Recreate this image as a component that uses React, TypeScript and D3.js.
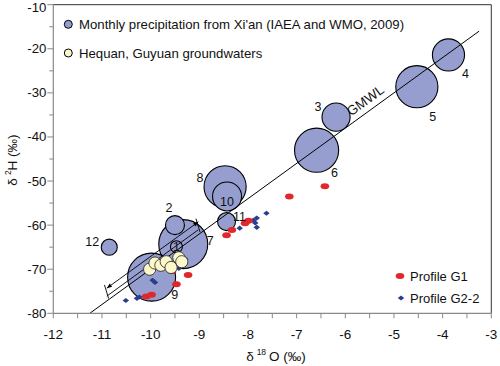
import React from "react";
import * as d3 from "d3";

// ---- Data ----
// Monthly precipitation, Xi'an (month, δ18O, δ2H, amount in mm)
const months = [1, 2, 3, 4, 5, 6, 7, 8, 9, 10, 11, 12];
const precipO = [-9.47, -9.5, -6.19, -3.88, -4.53, -6.59, -9.33, -8.47, -9.98, -8.43, -8.44, -10.85];
const precipH = [-64.9, -60.0, -35.5, -21.4, -28.6, -43.0, -64.3, -51.3, -71.8, -53.5, -59.2, -65.0];
const precipAmount = [6, 15, 33, 43, 74, 81, 100, 74, 96, 35, 13.5, 10.7];

// Hequan, Guyuan groundwaters
const gwO = [-10.02, -9.91, -9.79, -9.68, -9.58, -9.42, -9.36];
const gwH = [-70.0, -68.6, -69.1, -68.3, -69.6, -67.4, -68.3];

// Profile G1
const g1O = [-6.42, -7.15, -7.99, -8.06, -8.33, -8.44, -9.56, -9.23, -9.47, -9.98, -10.09];
const g1H = [-51.2, -53.5, -59.0, -59.6, -61.1, -62.3, -70.4, -71.3, -73.4, -75.8, -76.2];

// Profile G2-2
const g2O = [-7.62, -7.82, -7.89, -7.85, -7.82, -8.17, -9.66, -9.45, -9.29, -9.41, -9.42, -9.96, -9.91, -10.23, -10.28, -10.51];
const g2H = [-57.3, -58.4, -58.9, -59.5, -60.5, -60.7, -68.2, -67.7, -67.7, -69.0, -69.8, -72.5, -73.0, -76.3, -76.6, -77.1];

// Axis ticks
const xTicks = [-12, -11, -10, -9, -8, -7, -6, -5, -4, -3];
const yTicks = [-80, -70, -60, -50, -40, -30, -20, -10];

// GMWL: δ2H = 8 δ18O + 10
const gmwlSlope = 8;
const gmwlIntercept = 10;
const gmwlRange = [-11.25, -3.25];
const offsetLineIntercept = 11.1;
const dimLineIntercept = 12.9;
const dimRange = [-10.9, -9.02];

// ---- Layout ----
const W = 500;
const H = 366;
const FONT = "Arial, 'Liberation Sans', sans-serif";
const LAV = "#959ecf";
const CREAM = "#fdf8c9";
const RED = "#e0282c";
const BLUE = "#2a3f8c";

const labelOffsets: Record<number, [number, number]> = {
  1: [0, 0],
  2: [-6, -17],
  3: [-18, -10],
  4: [17, 19],
  5: [16, 30],
  6: [18, 23],
  7: [27, -3],
  8: [-25, -9],
  9: [23, 18],
  10: [0, 6],
  11: [13, -5],
  12: [-17, -5],
};

export default function App() {
  const x = d3.scaleLinear().domain([-12, -3]).range([53.3, 491.3]);
  const y = d3.scaleLinear().domain([-80, -10]).range([313.3, 4.7]);
  const r = d3.scaleSqrt().domain([0, 100]).range([0, 24.5]);

  const [x0, x1] = x.range();
  const [y0, y1] = y.range();

  const bubbles = months
    .map((m, i) => ({ m, o: precipO[i], h: precipH[i], a: precipAmount[i] }))
    .sort((a, b) => b.a - a.a);

  const lineH = (o: number, c: number) => gmwlSlope * o + c;
  const line = d3
    .line<number>()
    .x((o) => x(o))
    .y((o) => y(lineH(o, gmwlIntercept)));

  const p = (o: number, c: number) => [x(o), y(lineH(o, c))] as [number, number];
  const dA = p(dimRange[0], dimLineIntercept);
  const dB = p(dimRange[1], dimLineIntercept);
  const lA = p(dimRange[0], offsetLineIntercept);
  const lB = p(dimRange[1], offsetLineIntercept);
  const dx = dB[0] - dA[0];
  const dy = dB[1] - dA[1];
  const len = Math.hypot(dx, dy);
  const ux = dx / len;
  const uy = dy / len;
  const nx = -uy;
  const ny = ux;
  const tickSeg = (top: [number, number], bottom: [number, number]) => [
    [top[0] - nx * 4, top[1] - ny * 4],
    [bottom[0] + nx * 3, bottom[1] + ny * 3],
  ];
  const tA = tickSeg(dA, lA);
  const tB = tickSeg(dB, lB);
  const arrow = (tip: [number, number], dirx: number, diry: number) => {
    const L = 5;
    const Wd = 2;
    const bx = tip[0] - dirx * L;
    const by = tip[1] - diry * L;
    return `M${tip[0]},${tip[1]} L${bx + nx * Wd},${by + ny * Wd} L${bx - nx * Wd},${by - ny * Wd} Z`;
  };

  const gmwlLabelO = -5.46;
  const gl = p(gmwlLabelO, gmwlIntercept);
  const angle = (Math.atan2(dy, dx) * 180) / Math.PI;

  const diamond = (cx: number, cy: number, s: number) =>
    `M${cx},${cy - s} L${cx + s * 1.25},${cy} L${cx},${cy + s} L${cx - s * 1.25},${cy} Z`;

  const minorX = d3.range(-12, -3 + 0.001, 0.5);
  const minorY = d3.range(-80, -10 + 0.001, 5);

  return (
    <svg
      width={W}
      height={H}
      style={{ position: "absolute", left: 0, top: 0, background: "#fff" }}
      fontFamily={FONT}
    >
      <rect x={0} y={0} width={W} height={H} fill="#fff" />

      {bubbles.map((b) => (
        <circle
          key={b.m}
          cx={x(b.o)}
          cy={y(b.h)}
          r={r(b.a)}
          fill={LAV}
          stroke="#000"
          strokeWidth={1.1}
        />
      ))}

      <path d={line(gmwlRange) || ""} fill="none" stroke="#000" strokeWidth={1} />
      <line x1={lA[0]} y1={lA[1]} x2={lB[0]} y2={lB[1]} stroke="#000" strokeWidth={0.9} />
      <line x1={dA[0]} y1={dA[1]} x2={dB[0]} y2={dB[1]} stroke="#000" strokeWidth={0.9} />
      <line x1={tA[0][0]} y1={tA[0][1]} x2={tA[1][0]} y2={tA[1][1]} stroke="#000" strokeWidth={0.9} />
      <line x1={tB[0][0]} y1={tB[0][1]} x2={tB[1][0]} y2={tB[1][1]} stroke="#000" strokeWidth={0.9} />
      <path d={arrow(dA, -ux, -uy)} fill="#000" />
      <path d={arrow(dB, ux, uy)} fill="#000" />

      <text
        x={gl[0]}
        y={gl[1]}
        transform={`rotate(${angle} ${gl[0]} ${gl[1]}) translate(0 -6)`}
        fontSize={13.5}
        textAnchor="middle"
        fill="#111"
      >
        GMWL
      </text>

      {g2O.map((o, i) => (
        <path key={"g2" + i} d={diamond(x(o), y(g2H[i]), 2.6)} fill={BLUE} />
      ))}
      {g1O.map((o, i) => (
        <ellipse key={"g1" + i} cx={x(o)} cy={y(g1H[i])} rx={4.3} ry={3} fill={RED} />
      ))}
      {gwO.map((o, i) => (
        <circle
          key={"gw" + i}
          cx={x(o)}
          cy={y(gwH[i])}
          r={6.1}
          fill={CREAM}
          stroke="#222"
          strokeWidth={0.8}
        />
      ))}

      {months.map((m, i) => {
        const [ox, oy] = labelOffsets[m];
        return (
          <text
            key={"lb" + m}
            x={x(precipO[i]) + ox}
            y={y(precipH[i]) + oy}
            fontSize={12.5}
            textAnchor="middle"
            dominantBaseline="central"
            fill="#111"
          >
            {m}
          </text>
        );
      })}

      <line x1={x0} y1={y1} x2={x1} y2={y1} stroke="#333" strokeWidth={1} />
      <line x1={x1} y1={y1} x2={x1} y2={y0} stroke="#333" strokeWidth={1} />
      <line x1={x0} y1={y0} x2={x1} y2={y0} stroke="#888" strokeWidth={1.2} />
      <line x1={x0} y1={y0} x2={x0} y2={y1} stroke="#888" strokeWidth={1.2} />

      {minorX.map((v) => (
        <line key={"xt" + v} x1={x(v)} x2={x(v)} y1={y0} y2={y0 + 5} stroke="#888" strokeWidth={1} />
      ))}
      {xTicks.map((v) => (
        <text key={"xl" + v} x={x(v)} y={y0 + 26} fontSize={13.5} textAnchor="middle" fill="#111">
          {v}
        </text>
      ))}
      {minorY.map((v) => (
        <line
          key={"yt" + v}
          x1={x0}
          x2={x0 - (v % 10 === 0 ? 6 : 4)}
          y1={y(v)}
          y2={y(v)}
          stroke="#888"
          strokeWidth={1}
        />
      ))}
      {yTicks.map((v) => (
        <text
          key={"yl" + v}
          x={x0 - 7}
          y={y(v) + (v === -10 ? 3 : 0)}
          fontSize={13.2}
          textAnchor="end"
          dominantBaseline="central"
          fill="#111"
        >
          {v}
        </text>
      ))}

      <text x={276} y={361} fontSize={13.5} textAnchor="middle" fill="#111">
        δ
        <tspan fontSize={8.5} dy={-6} dx={3}>
          18
        </tspan>
        <tspan dy={6} dx={3}>
          O (‰)
        </tspan>
      </text>
      <text
        x={0}
        y={0}
        transform="translate(17 160) rotate(-90)"
        fontSize={13.5}
        textAnchor="middle"
        fill="#111"
      >
        δ
        <tspan fontSize={8.5} dy={-6} dx={3}>
          2
        </tspan>
        <tspan dy={6}>H (‰)</tspan>
      </text>

      <circle cx={68.3} cy={24.3} r={4} fill={LAV} stroke="#000" strokeWidth={1} />
      <text x={79} y={24.3} fontSize={13.2} dominantBaseline="central" fill="#111">
        Monthly precipitation from Xi'an (IAEA and WMO, 2009)
      </text>
      <circle cx={68.3} cy={53} r={4} fill={CREAM} stroke="#000" strokeWidth={1} />
      <text x={79} y={53} fontSize={13.2} dominantBaseline="central" fill="#111">
        Hequan, Guyuan groundwaters
      </text>

      <ellipse cx={400} cy={276} rx={4.3} ry={3} fill={RED} />
      <text x={410} y={276} fontSize={13} dominantBaseline="central" fill="#111">
        Profile G1
      </text>
      <path d={diamond(401, 298, 2.6)} fill={BLUE} />
      <text x={410} y={298} fontSize={13} dominantBaseline="central" fill="#111">
        Profile G2-2
      </text>
    </svg>
  );
}
